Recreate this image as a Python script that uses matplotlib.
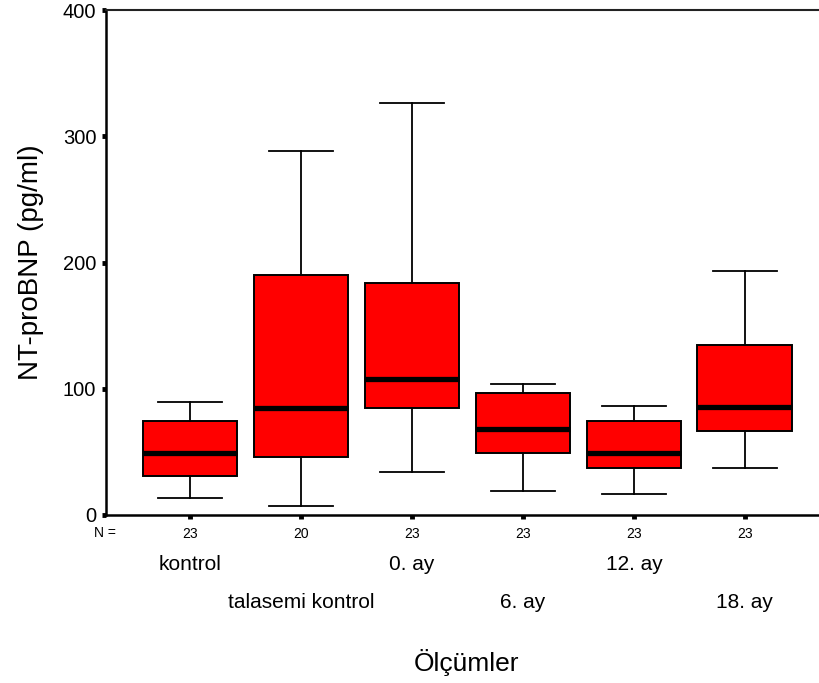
import matplotlib
matplotlib.use("Agg")
import matplotlib.pyplot as plt
import matplotlib.transforms as mtransforms

plt.rcParams['font.family'] = ['Liberation Sans', 'DejaVu Sans']

groups = ['kontrol', 'talasemi kontrol', '0. ay', '6. ay', '12. ay', '18. ay']
counts = [23, 20, 23, 23, 23, 23]
whis_lo = [13.7, 7.4, 34.3, 19.2, 16.6, 37.4]
q1 = [30.9, 46.0, 85.0, 49.0, 37.4, 66.7]
median = [49.3, 85.0, 108.0, 68.3, 49.0, 85.2]
q3 = [74.6, 190.4, 184.0, 96.8, 74.4, 134.7]
whis_hi = [89.2, 288.5, 326.0, 104.0, 86.2, 193.3]

stats = []
for i, g in enumerate(groups):
    stats.append(dict(label=g, whislo=whis_lo[i], q1=q1[i], med=median[i],
                      q3=q3[i], whishi=whis_hi[i], fliers=[]))

fig = plt.figure(figsize=(8.2, 6.83), dpi=100)
ax = fig.add_axes([0.1293, 0.246, 0.882, 0.7393])

pos = list(range(1, len(groups) + 1))
ax.bxp(stats, positions=pos, widths=0.855, patch_artist=True, showfliers=False,
       boxprops=dict(facecolor='#ff0000', edgecolor='black', linewidth=1.4),
       medianprops=dict(color='black', linewidth=3.8, solid_capstyle='butt'),
       whiskerprops=dict(color='black', linewidth=1.3),
       capprops=dict(color='black', linewidth=1.3),
       capwidths=0.58)

ax.set_xlim(0.243, 6.76)
ax.set_ylim(0, 400)
ax.set_yticks([0, 100, 200, 300, 400])
ax.set_xticks(pos)
ax.set_xticklabels([str(c) for c in counts], fontsize=10)
ax.tick_params(axis='y', direction='out', length=3, width=3.5, labelsize=14.5, pad=4)
ax.tick_params(axis='x', direction='out', length=3, width=3.5, pad=6)

for s in ['left', 'bottom']:
    ax.spines[s].set_linewidth(1.8)
ax.spines['top'].set_linewidth(1.5)
ax.spines['top'].set_color('#222222')
ax.spines['right'].set_visible(False)

trans = mtransforms.blended_transform_factory(ax.transData, fig.transFigure)
for i, g in enumerate(groups):
    yy = 1 - 565 / 683 if i % 2 == 0 else 1 - 602 / 683
    ax.text(pos[i], yy, g, transform=trans, ha='center', va='center', fontsize=15)

fig.text(105 / 820, 1 - 533 / 683, 'N =', ha='center', va='center', fontsize=10)
ax.set_ylabel('NT-proBNP (pg/ml)', fontsize=20)
ax.yaxis.set_label_coords(-0.086, 0.5)
fig.text(467 / 820, 1 - 662 / 683, 'Ölçümler', ha='center', va='center', fontsize=19)

fig.savefig('out.png', dpi=100)
